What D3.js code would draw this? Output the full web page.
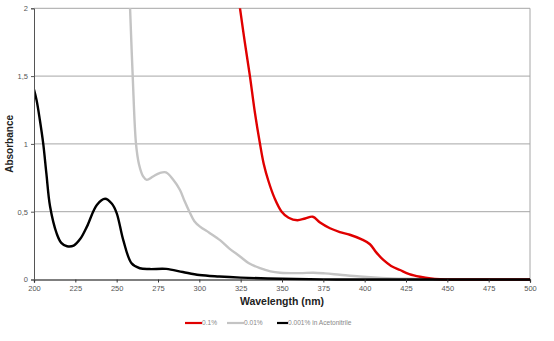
<!DOCTYPE html>
<html>
<head>
<meta charset="utf-8">
<script src="https://cdn.jsdelivr.net/npm/d3@7"></script>
<style>
  html, body { margin: 0; padding: 0; background: #fff; }
  svg { display: block; font-family: "Liberation Sans", Arial, sans-serif; }
</style>
</head>
<body>
<svg id="chart" width="554" height="341"></svg>
<script>
// ---- data ----
const seriesNames = ["0.1%", "0.01%", "0.001% in Acetonitrile"];
const seriesColors = ["#e00000", "#c4c4c4", "#000000"];

const redWl  = [321.5,324.6,327.5,330.6,333.5,336.7,339,341.7,345.5,349.8,354,359.3,364,368.6,373,379,385,391,398.2,403.2,407,411.3,416,421.4,427,433.5,440,445.6,455,500];
const redAbs = [2.3,2.0,1.75,1.5,1.24,1.0,0.85,0.73,0.6,0.5,0.455,0.437,0.45,0.463,0.42,0.378,0.35,0.33,0.296,0.26,0.2,0.144,0.1,0.07,0.04,0.02,0.007,0.002,0,0];

const grayWl  = [257.1,258.1,259.7,261.7,263.5,266,268.2,272,276,279.8,284,288.3,291,294,297,300.4,306,312.5,318,324.6,330,336.7,343,348.8,361,368.8,376,385,397,410,425,440,500];
const grayAbs = [2.3,2.0,1.5,1.0,0.85,0.76,0.735,0.76,0.785,0.79,0.74,0.66,0.58,0.5,0.43,0.39,0.345,0.29,0.23,0.17,0.12,0.083,0.06,0.05,0.047,0.05,0.045,0.035,0.022,0.012,0.005,0.001,0];

const blackWl  = [200,201.6,203.5,205.6,207.5,209.7,213.7,216.5,220,224,228,232,238,243,247,250,254,259,264,270,280,290,300,312,325,350,375,400,500];
const blackAbs = [1.40,1.32,1.18,1.0,0.78,0.54,0.34,0.27,0.245,0.25,0.3,0.39,0.55,0.595,0.56,0.49,0.29,0.12,0.083,0.077,0.078,0.055,0.033,0.022,0.014,0.005,0.001,0,0];

const xTicks = [200,225,250,275,300,325,350,375,400,425,450,475,500];
const yTicks = [0,0.5,1,1.5,2];
const yTickLabels = ["0","0,5","1","1,5","2"];

// ---- layout ----
const svg = d3.select("#chart");
const L = 34, R = 530, T = 8.3, B = 279.5;

const x = d3.scaleLinear().domain([200,500]).range([L,R]);
const y = d3.scaleLinear().domain([0,2]).range([B,T]);

svg.append("defs").append("clipPath").attr("id","clip")
  .append("rect").attr("x",L).attr("y",T).attr("width",R-L).attr("height",B-T+2);

// gridlines
svg.append("g").selectAll("line").data(yTicks.filter(d=>d>0)).join("line")
  .attr("x1",L).attr("x2",R).attr("y1",d=>y(d)).attr("y2",d=>y(d))
  .attr("stroke","#a6a6a6").attr("stroke-width",1);
// right border
svg.append("line").attr("x1",R).attr("x2",R).attr("y1",T).attr("y2",B)
  .attr("stroke","#a6a6a6").attr("stroke-width",1);

// lines
const line = d3.line().x(d=>x(d[0])).y(d=>y(Math.max(0,d[1]))).curve(d3.curveCatmullRom.alpha(0.5));
const series = [
  d3.zip(redWl, redAbs),
  d3.zip(grayWl, grayAbs),
  d3.zip(blackWl, blackAbs)
];
const gLines = svg.append("g").attr("clip-path","url(#clip)");
[1,0,2].forEach(i => {
  gLines.append("path").datum(series[i])
    .attr("d", line).attr("fill","none")
    .attr("stroke", seriesColors[i]).attr("stroke-width", 2.4)
    .attr("stroke-linejoin","round");
});

// axes
const xAxis = svg.append("g").attr("transform",`translate(0,${B})`)
  .call(d3.axisBottom(x).tickValues(xTicks).tickSize(3).tickPadding(3).tickFormat(d3.format("d")));
xAxis.select(".domain").attr("stroke","#000").attr("stroke-width",1.2);
xAxis.selectAll(".tick line").attr("stroke","#333");
xAxis.selectAll("text").attr("fill","#555").style("font-size","7.5px");

const yAxis = svg.append("g").attr("transform",`translate(${L},0)`)
  .call(d3.axisLeft(y).tickValues(yTicks).tickSize(3).tickPadding(3).tickFormat((d,i)=>yTickLabels[i]));
yAxis.select(".domain").attr("stroke","#555").attr("stroke-width",1);
yAxis.selectAll(".tick line").attr("stroke","#555");
yAxis.selectAll("text").attr("fill","#555").style("font-size","7.5px");

// axis titles
svg.append("text").attr("x",(L+R)/2).attr("y",305)
  .attr("text-anchor","middle").attr("font-weight","bold").attr("font-size","10.5px").attr("fill","#222")
  .text("Wavelength (nm)");
svg.append("text").attr("transform",`translate(13,${(T+B)/2}) rotate(-90)`)
  .attr("text-anchor","middle").attr("font-weight","bold").attr("font-size","10px").attr("fill","#222")
  .text("Absorbance");

// legend
const legX = [185, 227, 277];
const legend = svg.append("g");
seriesNames.forEach((n,i) => {
  const g = legend.append("g").attr("transform",`translate(${legX[i]},323)`);
  g.append("line").attr("x1",0).attr("x2",i===2?11:17).attr("y1",0).attr("y2",0)
    .attr("stroke",seriesColors[i]).attr("stroke-width",2.2);
  g.append("text").attr("x",i===2?11:17).attr("y",2.3).attr("font-size","6.6px").attr("fill","#888").text(n);
});
</script>
</body>
</html>
